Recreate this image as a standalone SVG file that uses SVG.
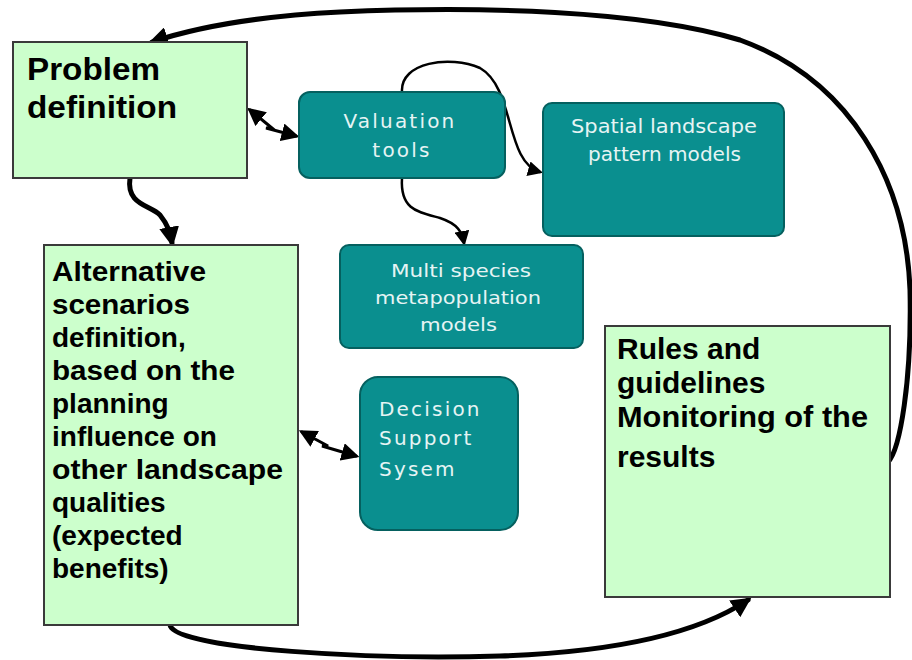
<svg xmlns="http://www.w3.org/2000/svg" width="912" height="660" viewBox="0 0 912 660">
<style>
.g{fill:#ccffcc;stroke:#3a3a3a;stroke-width:2}
.t{fill:#0a8f8f;stroke:#05605f;stroke-width:2}
.bt{font-family:"Liberation Sans",Arial,sans-serif;font-weight:bold;fill:#000}
.wt{font-family:"DejaVu Sans",sans-serif;fill:#e6f4f4}
.c{fill:none;stroke:#000;stroke-linecap:round}
</style>
<defs>
<marker id="ah" viewBox="0 0 10 10" refX="8" refY="5" markerWidth="4" markerHeight="4" orient="auto-start-reverse" markerUnits="strokeWidth">
<path d="M0,0 L10,5 L0,10 z" fill="#000"/>
</marker>
<marker id="ahs" viewBox="0 0 10 10" refX="8" refY="5" markerWidth="6" markerHeight="6" orient="auto-start-reverse" markerUnits="strokeWidth">
<path d="M0,0 L10,5 L0,10 z" fill="#000"/>
</marker>
</defs>
<rect width="912" height="660" fill="#fff"/>
<g id="connectors">
<path class="c" stroke-width="5" marker-end="url(#ah)" d="M888,462 C900,450 912,380 910,290 C906,180 850,80 740,40 C640,10 480,6 340,12 C260,16 200,26 152,42"/>
<path class="c" stroke-width="5" marker-end="url(#ah)" d="M130,178 C126,205 150,205 160,215 C168,225 170,232 172,243"/>
<path class="c" stroke-width="5" marker-end="url(#ah)" d="M170,625 C175,650 380,660 500,656 C620,652 700,632 748,600"/>
<path class="c" stroke-width="3" marker-start="url(#ahs)" marker-end="url(#ahs)" d="M250,110 L272,128 L266,128 L296,136"/>
<path class="c" stroke-width="3" marker-start="url(#ahs)" marker-end="url(#ahs)" d="M302,432 L328,446 L322,446 L356,456"/>
<path class="c" stroke-width="2.5" marker-end="url(#ahs)" d="M402,92 C400,62 450,55 480,68 C515,88 505,162 540,172"/>
<path class="c" stroke-width="2.5" marker-end="url(#ahs)" d="M402,178 C400,210 418,212 440,218 C458,224 462,232 464,243"/>
</g>
<g id="problem">
<rect class="g" x="13" y="42" width="234" height="136"/>
<text class="bt" font-size="32" x="27" y="80" textLength="133" lengthAdjust="spacingAndGlyphs">Problem</text>
<text class="bt" font-size="32" x="27" y="118" textLength="150" lengthAdjust="spacingAndGlyphs">definition</text>
</g>
<g id="valuation">
<rect class="t" x="299" y="92" width="206" height="86" rx="11"/>
<text class="wt" font-size="20" x="400" y="128" text-anchor="middle" letter-spacing="2.2">Valuation</text>
<text class="wt" font-size="20" x="402" y="157" text-anchor="middle" letter-spacing="2.2">tools</text>
</g>
<g id="spatial">
<rect class="t" x="543" y="103" width="241" height="133" rx="9"/>
<text class="wt" font-size="19" x="571" y="133" textLength="186" lengthAdjust="spacingAndGlyphs">Spatial landscape</text>
<text class="wt" font-size="19" x="588" y="161" textLength="153" lengthAdjust="spacingAndGlyphs">pattern models</text>
</g>
<g id="multi">
<rect class="t" x="340" y="245" width="243" height="103" rx="9"/>
<text class="wt" font-size="18" x="391" y="277" textLength="140" lengthAdjust="spacingAndGlyphs">Multi species</text>
<text class="wt" font-size="18" x="375" y="304" textLength="166" lengthAdjust="spacingAndGlyphs">metapopulation</text>
<text class="wt" font-size="18" x="420" y="331" textLength="77" lengthAdjust="spacingAndGlyphs">models</text>
</g>
<g id="alternative">
<rect class="g" x="44" y="245" width="254" height="380"/>
<g class="bt" font-size="28">
<text x="52" y="281" textLength="154" lengthAdjust="spacingAndGlyphs">Alternative</text>
<text x="52" y="314" textLength="138" lengthAdjust="spacingAndGlyphs">scenarios</text>
<text x="52" y="347">definition,</text>
<text x="52" y="380" textLength="183" lengthAdjust="spacingAndGlyphs">based on the</text>
<text x="52" y="413">planning</text>
<text x="52" y="446">influence on</text>
<text x="52" y="479" textLength="231" lengthAdjust="spacingAndGlyphs">other landscape</text>
<text x="52" y="512">qualities</text>
<text x="52" y="545">(expected</text>
<text x="52" y="578">benefits)</text>
</g>
</g>
<g id="dss">
<rect class="t" x="360" y="377" width="158" height="153" rx="18"/>
<text class="wt" font-size="20" x="379" y="416" letter-spacing="2.2">Decision</text>
<text class="wt" font-size="20" x="379" y="445" letter-spacing="2.2">Support</text>
<text class="wt" font-size="20" x="379" y="476" letter-spacing="2.2">Sysem</text>
</g>
<g id="rules">
<rect class="g" x="605" y="326" width="285" height="271"/>
<g class="bt" font-size="30">
<text x="617" y="359">Rules and</text>
<text x="617" y="393">guidelines</text>
<text x="617" y="427" textLength="251" lengthAdjust="spacingAndGlyphs">Monitoring of the</text>
<text x="617" y="467">results</text>
</g>
</g>
</svg>
